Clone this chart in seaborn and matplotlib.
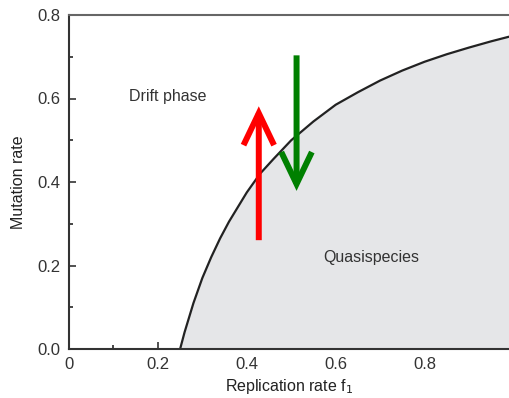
import matplotlib
matplotlib.use("Agg")
import matplotlib.pyplot as plt
import seaborn as sns
import pandas as pd

# values
replication = [0.25, 0.26, 0.27, 0.28, 0.30, 0.32, 0.34, 0.36, 0.38, 0.40, 0.43,
               0.46, 0.50, 0.55, 0.60, 0.65, 0.70, 0.75, 0.80, 0.85, 0.90, 0.95, 0.99]
mutation = [0.0, 0.04, 0.075, 0.11, 0.17, 0.22, 0.265, 0.305, 0.34, 0.375, 0.42,
            0.455, 0.50, 0.545, 0.585, 0.615, 0.643, 0.667, 0.688, 0.706, 0.722, 0.737, 0.748]
red_arrow = (0.427, 0.254, 0.588)     # x, from, to
green_arrow = (0.512, 0.710, 0.372)

df = pd.DataFrame({"f1": replication, "mu": mutation})

sns.set_style("ticks")
plt.rcParams["font.family"] = ["Liberation Sans", "DejaVu Sans"]

fig = plt.figure(figsize=(5.09, 3.98), dpi=100)
ax = fig.add_axes([69 / 509, 49 / 398, 440 / 509, 334 / 398])

ax.fill_between(df["f1"], df["mu"], 0, color="#e5e6e8", lw=0)
sns.lineplot(data=df, x="f1", y="mu", ax=ax, color="#222222", lw=1.6)

head = "->,head_length=2.3,head_width=1.1"
ax.annotate("", xy=(red_arrow[0], red_arrow[2]), xytext=(red_arrow[0], red_arrow[1]),
            arrowprops=dict(arrowstyle=head, color="#ff0000", lw=4.3,
                            capstyle="butt", joinstyle="miter"))
ax.annotate("", xy=(green_arrow[0], green_arrow[2]), xytext=(green_arrow[0], green_arrow[1]),
            arrowprops=dict(arrowstyle=head, color="#008000", lw=4.3,
                            capstyle="butt", joinstyle="miter"))

ax.text(0.222, 0.604, "Drift phase", ha="center", va="center", fontsize=11.5, color="#333333")
ax.text(0.68, 0.22, "Quasispecies", ha="center", va="center", fontsize=11.5, color="#333333")

ax.set_xlim(0, 0.99)
ax.set_ylim(0, 0.8)
ax.set_xticks([0, 0.2, 0.4, 0.6, 0.8])
ax.set_xticklabels(["0", "0.2", "0.4", "0.6", "0.8"])
ax.set_xticks([0.1, 0.3, 0.5, 0.7, 0.9], minor=True)
ax.set_yticks([0.0, 0.2, 0.4, 0.6, 0.8])
ax.set_yticklabels(["0.0", "0.2", "0.4", "0.6", "0.8"])
ax.set_yticks([0.1, 0.3, 0.5, 0.7], minor=True)
ax.tick_params(direction="in", length=5, width=1.2, labelsize=12, colors="#333333", pad=6)
ax.tick_params(which="minor", direction="in", length=3, width=1.2)
ax.set_xlabel("Replication rate f$_1$", fontsize=11.5, color="#222222", labelpad=3)
ax.set_ylabel("Mutation rate", fontsize=11.5, color="#222222", labelpad=8)

for side in ["left", "bottom", "top"]:
    ax.spines[side].set_visible(True)
    ax.spines[side].set_color("#333333")
    ax.spines[side].set_linewidth(1.5)
ax.spines["top"].set_color("#666666")
ax.spines["right"].set_visible(False)

fig.savefig("out.png", dpi=100)
